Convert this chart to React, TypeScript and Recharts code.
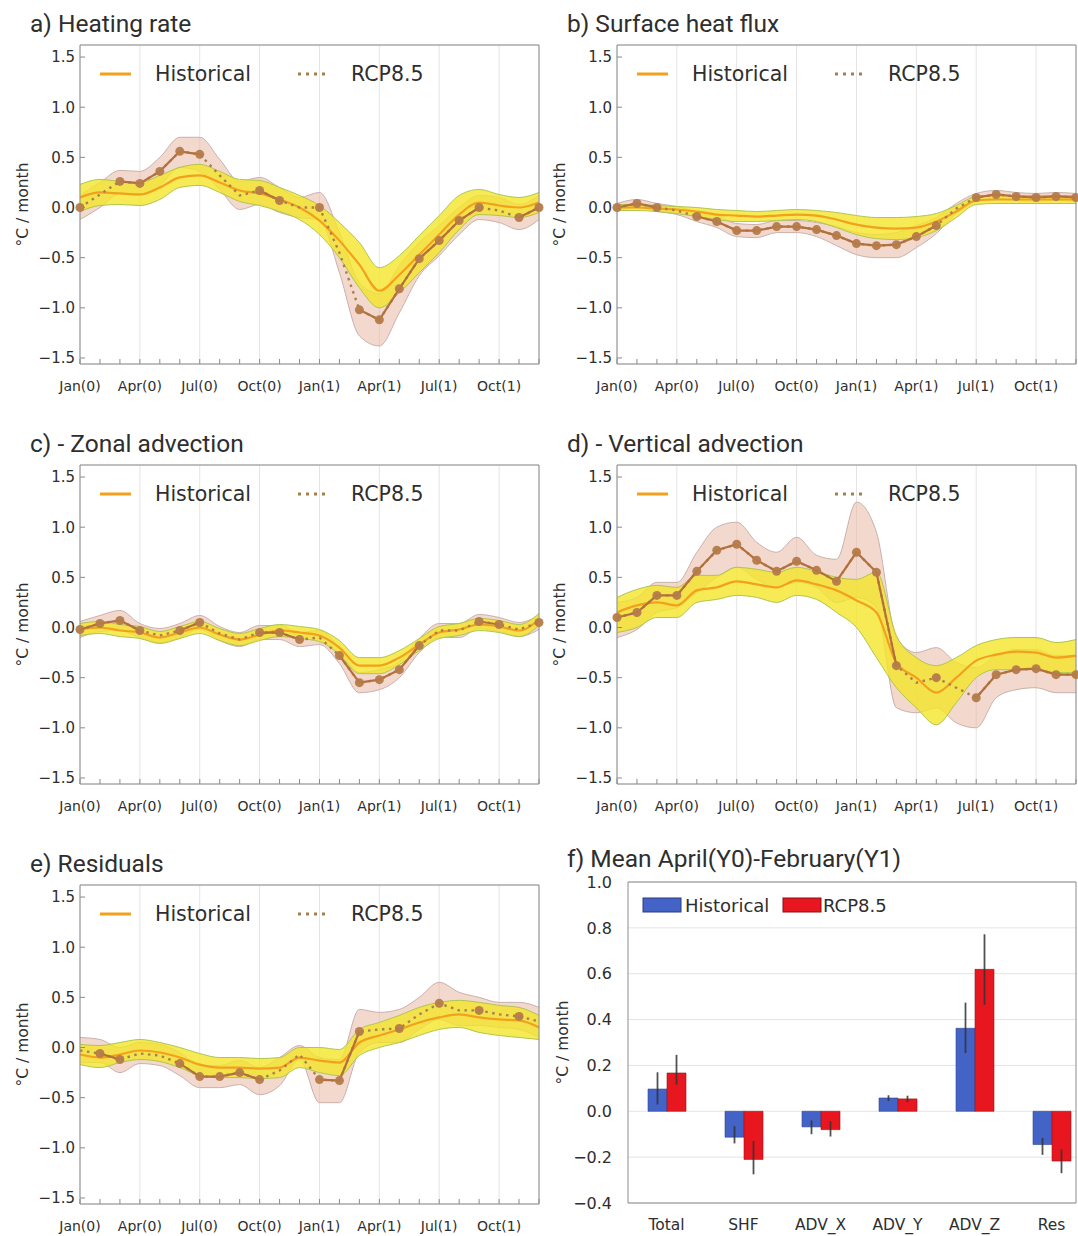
import React from 'react';
import {
  ComposedChart,
  BarChart,
  Bar,
  Line,
  Area,
  XAxis,
  YAxis,
  CartesianGrid,
  ErrorBar,
  Legend,
} from 'recharts';

// ---------------- data ----------------
const MONTHS = [0, 1, 2, 3, 4, 5, 6, 7, 8, 9, 10, 11, 12, 13, 14, 15, 16, 17, 18, 19, 20, 21, 22, 23];
const MAJOR_TICKS = [0, 3, 6, 9, 12, 15, 18, 21];
const MAJOR_LABELS = ['Jan(0)', 'Apr(0)', 'Jul(0)', 'Oct(0)', 'Jan(1)', 'Apr(1)', 'Jul(1)', 'Oct(1)'];
const GRID_MONTHS = [3, 6, 9, 12, 15, 18, 21];
const Y_TICKS = [-1.5, -1.0, -0.5, 0, 0.5, 1.0, 1.5];
const Y_DOMAIN = [-1.56, 1.62];
const SERIES_NAMES = ['Historical', 'RCP8.5'];
const Y_LABEL = '°C / month';

// a) Heating rate
const HR_HIST = [0.1, 0.15, 0.14, 0.13, 0.2, 0.3, 0.32, 0.25, 0.17, 0.14, 0.08, 0.0, -0.13, -0.33, -0.57, -0.83, -0.67, -0.47, -0.27, -0.07, 0.05, 0.02, 0.0, 0.05];
const HR_HIST_LO = [-0.04, 0.02, 0.03, 0.02, 0.08, 0.2, 0.22, 0.15, 0.06, 0.02, -0.04, -0.12, -0.27, -0.5, -0.8, -1.0, -0.85, -0.65, -0.45, -0.22, -0.07, -0.08, -0.1, -0.05];
const HR_HIST_HI = [0.23, 0.28, 0.26, 0.25, 0.32, 0.4, 0.43, 0.36, 0.28, 0.27, 0.2, 0.12, 0.02, -0.15, -0.35, -0.6, -0.48, -0.28, -0.08, 0.12, 0.18, 0.13, 0.1, 0.15];
const HR_RCP = [0.0, 0.13, 0.26, 0.24, 0.36, 0.56, 0.53, 0.32, 0.12, 0.17, 0.07, 0.0, 0.0, -0.45, -1.02, -1.12, -0.81, -0.51, -0.33, -0.13, 0.0, -0.03, -0.1, 0.0];
const HR_RCP_LO = [-0.12, 0.0, 0.14, 0.12, 0.22, 0.4, 0.36, 0.18, -0.02, 0.03, -0.05, -0.1, -0.12, -0.65, -1.28, -1.38, -1.05, -0.68, -0.48, -0.27, -0.12, -0.15, -0.22, -0.12];
const HR_RCP_HI = [0.12, 0.25, 0.37, 0.36, 0.5, 0.7, 0.7, 0.48, 0.26, 0.3, 0.2, 0.1, 0.15, -0.25, -0.75, -0.86, -0.58, -0.35, -0.18, 0.0, 0.12, 0.1, 0.03, 0.12];
const HR_SIG = [0, 2, 3, 4, 5, 6, 9, 10, 12, 14, 15, 16, 17, 18, 19, 20, 22, 23];

// b) Surface heat flux
const SHF_HIST = [0.0, 0.0, -0.01, -0.02, -0.04, -0.07, -0.08, -0.09, -0.08, -0.07, -0.08, -0.12, -0.17, -0.2, -0.21, -0.2, -0.14, -0.04, 0.07, 0.08, 0.08, 0.08, 0.08, 0.08];
const SHF_HIST_LO = [-0.03, -0.03, -0.04, -0.06, -0.09, -0.12, -0.14, -0.14, -0.13, -0.12, -0.14, -0.2, -0.27, -0.31, -0.32, -0.3, -0.23, -0.1, 0.03, 0.04, 0.04, 0.04, 0.04, 0.04];
const SHF_HIST_HI = [0.03, 0.03, 0.02, 0.01, 0.0, -0.02, -0.03, -0.04, -0.03, -0.02, -0.03, -0.05, -0.08, -0.1, -0.1, -0.09, -0.06, 0.02, 0.11, 0.12, 0.12, 0.12, 0.12, 0.12];
const SHF_RCP = [0.0, 0.04, 0.0, -0.03, -0.09, -0.14, -0.23, -0.23, -0.19, -0.19, -0.22, -0.28, -0.36, -0.38, -0.37, -0.29, -0.18, -0.01, 0.1, 0.13, 0.11, 0.1, 0.11, 0.1];
const SHF_RCP_LO = [-0.04, 0.0, -0.04, -0.07, -0.14, -0.2, -0.29, -0.3, -0.25, -0.25, -0.29, -0.38, -0.47, -0.5, -0.5, -0.4, -0.26, -0.06, 0.06, 0.09, 0.07, 0.06, 0.07, 0.06];
const SHF_RCP_HI = [0.04, 0.08, 0.04, 0.01, -0.04, -0.08, -0.16, -0.17, -0.13, -0.13, -0.15, -0.19, -0.25, -0.27, -0.25, -0.18, -0.1, 0.04, 0.14, 0.17, 0.15, 0.14, 0.15, 0.14];
const SHF_SIG = [0, 1, 2, 4, 5, 6, 7, 8, 9, 10, 11, 12, 13, 14, 15, 16, 18, 19, 20, 21, 22, 23];

// c) - Zonal advection
const ZA_HIST = [-0.02, 0.0, -0.03, -0.05, -0.1, -0.05, 0.0, -0.07, -0.12, -0.07, -0.03, -0.05, -0.08, -0.2, -0.38, -0.38, -0.3, -0.17, -0.05, -0.02, 0.03, 0.01, -0.03, 0.08];
const ZA_HIST_LO = [-0.08, -0.06, -0.09, -0.11, -0.16, -0.11, -0.06, -0.13, -0.18, -0.13, -0.09, -0.11, -0.14, -0.27, -0.46, -0.46, -0.37, -0.23, -0.11, -0.08, -0.03, -0.05, -0.09, 0.02];
const ZA_HIST_HI = [0.04, 0.06, 0.03, 0.01, -0.04, 0.01, 0.06, -0.01, -0.06, -0.01, 0.03, 0.01, -0.02, -0.13, -0.3, -0.3, -0.23, -0.11, 0.01, 0.04, 0.09, 0.07, 0.03, 0.14];
const ZA_RCP = [-0.02, 0.04, 0.07, -0.03, -0.08, -0.03, 0.05, -0.06, -0.12, -0.05, -0.05, -0.12, -0.1, -0.28, -0.55, -0.52, -0.42, -0.18, -0.03, -0.03, 0.06, 0.03, -0.02, 0.05];
const ZA_RCP_LO = [-0.1, -0.04, -0.03, -0.1, -0.15, -0.1, -0.02, -0.13, -0.19, -0.12, -0.12, -0.19, -0.17, -0.36, -0.65, -0.62, -0.5, -0.25, -0.1, -0.1, -0.01, -0.04, -0.09, -0.02];
const ZA_RCP_HI = [0.06, 0.12, 0.17, 0.04, -0.01, 0.04, 0.12, 0.01, -0.05, 0.02, 0.02, -0.05, -0.03, -0.2, -0.45, -0.42, -0.34, -0.11, 0.04, 0.04, 0.13, 0.1, 0.05, 0.12];
const ZA_SIG = [0, 1, 2, 3, 5, 6, 9, 10, 11, 13, 14, 15, 16, 17, 20, 21, 23];

// d) - Vertical advection
const VA_HIST = [0.15, 0.22, 0.25, 0.22, 0.37, 0.4, 0.46, 0.43, 0.4, 0.47, 0.43, 0.37, 0.27, 0.15, -0.35, -0.5, -0.65, -0.5, -0.33, -0.27, -0.24, -0.25, -0.3, -0.28];
const VA_HIST_LO = [-0.05, 0.0, 0.1, 0.1, 0.25, 0.28, 0.32, 0.3, 0.25, 0.32, 0.28, 0.15, 0.0, -0.3, -0.6, -0.8, -0.97, -0.75, -0.5, -0.42, -0.42, -0.42, -0.45, -0.45];
const VA_HIST_HI = [0.3, 0.38, 0.42, 0.4, 0.52, 0.52, 0.6, 0.58, 0.55, 0.6, 0.56, 0.5, 0.48, 0.55, -0.08, -0.3, -0.38, -0.3, -0.18, -0.12, -0.1, -0.1, -0.15, -0.12];
const VA_RCP = [0.1, 0.15, 0.32, 0.32, 0.56, 0.77, 0.83, 0.67, 0.56, 0.66, 0.57, 0.46, 0.75, 0.55, -0.38, -0.55, -0.5, -0.6, -0.7, -0.47, -0.42, -0.41, -0.47, -0.47];
const VA_RCP_LO = [-0.1, -0.02, 0.15, 0.2, 0.35, 0.5, 0.6, 0.48, 0.4, 0.45, 0.4, 0.25, 0.3, 0.2, -0.8, -0.85, -0.8, -0.95, -1.0, -0.7, -0.62, -0.6, -0.65, -0.65];
const VA_RCP_HI = [0.25, 0.3, 0.45, 0.45, 0.75, 1.0, 1.05, 0.85, 0.75, 0.9, 0.72, 0.68, 1.25, 0.95, -0.1, -0.25, -0.2, -0.35, -0.4, -0.28, -0.22, -0.22, -0.28, -0.28];
const VA_SIG = [0, 1, 2, 3, 4, 5, 6, 7, 8, 9, 10, 11, 12, 13, 14, 16, 18, 19, 20, 21, 22, 23];

// e) Residuals
const RES_HIST = [-0.07, -0.1, -0.07, -0.03, -0.05, -0.1, -0.17, -0.2, -0.2, -0.21, -0.2, -0.1, -0.13, -0.15, 0.05, 0.12, 0.18, 0.25, 0.3, 0.33, 0.3, 0.28, 0.27, 0.2];
const RES_HIST_LO = [-0.17, -0.2, -0.15, -0.12, -0.14, -0.2, -0.28, -0.3, -0.3, -0.31, -0.3, -0.2, -0.25, -0.28, -0.08, 0.0, 0.05, 0.12, 0.18, 0.2, 0.15, 0.12, 0.1, 0.08];
const RES_HIST_HI = [0.03, 0.02, 0.05, 0.08, 0.05, 0.0, -0.06, -0.1, -0.1, -0.11, -0.1, 0.0, 0.0, -0.02, 0.18, 0.25, 0.32, 0.4, 0.45, 0.47, 0.45, 0.42, 0.4, 0.32];
const RES_RCP = [-0.03, -0.06, -0.12, -0.06, -0.08, -0.16, -0.29, -0.29, -0.25, -0.32, -0.23, -0.07, -0.32, -0.33, 0.16, 0.18, 0.19, 0.33, 0.44, 0.37, 0.37, 0.33, 0.31, 0.26];
const RES_RCP_LO = [-0.15, -0.15, -0.25, -0.16, -0.18, -0.28, -0.4, -0.4, -0.37, -0.47, -0.38, -0.12, -0.55, -0.55, -0.05, 0.05, 0.05, 0.18, 0.28, 0.22, 0.22, 0.2, 0.18, 0.1];
const RES_RCP_HI = [0.1, 0.08, 0.0, 0.05, 0.03, -0.05, -0.18, -0.18, -0.13, -0.2, -0.1, 0.02, -0.1, -0.12, 0.38, 0.35, 0.38, 0.5, 0.65, 0.55, 0.5, 0.45, 0.45, 0.4];
const RES_SIG = [1, 2, 5, 6, 7, 8, 9, 12, 13, 14, 16, 18, 20, 22];

// f) Mean April(Y0)-February(Y1)
const BAR_CATS = ['Total', 'SHF', 'ADV_X', 'ADV_Y', 'ADV_Z', 'Res'];
const BAR_HIST = [0.097, -0.113, -0.068, 0.058, 0.362, -0.145];
const BAR_HIST_LO = [0.03, -0.14, -0.1, 0.045, 0.254, -0.19];
const BAR_HIST_HI = [0.17, -0.065, -0.04, 0.07, 0.474, -0.116];
const BAR_RCP = [0.167, -0.21, -0.08, 0.054, 0.619, -0.217];
const BAR_RCP_LO = [0.116, -0.275, -0.11, 0.04, 0.464, -0.27];
const BAR_RCP_HI = [0.246, -0.13, -0.043, 0.068, 0.772, -0.167];
const BAR_Y_TICKS = [-0.4, -0.2, 0, 0.2, 0.4, 0.6, 0.8, 1.0];
const BAR_Y_DOMAIN = [-0.4, 1.0];

// ---------------- styles ----------------
const FONT = '"DejaVu Sans", Verdana, sans-serif';
const TITLE_FONT = 'Roboto, "Open Sans", sans-serif';
const TXT = '#2e2e2e';
const FRAME = '#8c8c8c';
const GRID = '#e4e4e4';
const HIST_COLOR = '#F3A01C';
const HIST_BAND = '#F4E52A';
const HIST_BAND_EDGE = '#AFC64E';
const RCP_BAND = '#E9B8A6';
const RCP_BAND_EDGE = '#C9B1AC';
const RCP_COLOR = '#B4703C';
const RCP_DOT = '#A88050';
const MARKER = '#B47B4A';
const BAR_BLUE = '#4363C6';
const BAR_RED = '#E8171F';

const fmt = (v: number) => v.toFixed(1).replace('-', '\u2212');

const MonthTick = (props: any) => {
  const { x, y, payload } = props;
  const idx = MAJOR_TICKS.indexOf(payload.value);
  return (
    <g>
      <line x1={x} x2={x} y1={y} y2={y - 5} stroke={FRAME} strokeWidth={1} />
      {idx >= 0 && (
        <text x={x} y={y + 27} textAnchor="middle" fontSize={14} fontFamily={FONT} fill={TXT}>
          {MAJOR_LABELS[idx]}
        </text>
      )}
    </g>
  );
};

const LeftTick = (props: any) => {
  const { x, y, payload } = props;
  return (
    <g>
      <line x1={x} x2={x + 5} y1={y} y2={y} stroke={FRAME} strokeWidth={1} />
      <text x={x - 5} y={y} dy="0.36em" textAnchor="end" fontSize={15} fontFamily={FONT} fill={TXT}>
        {fmt(payload.value)}
      </text>
    </g>
  );
};

const RightTick = (props: any) => {
  const { x, y } = props;
  return <line x1={x} x2={x - 5} y1={y} y2={y} stroke={FRAME} strokeWidth={1} />;
};

const BarYTick = (props: any) => {
  const { x, y, payload } = props;
  return (
    <text x={x - 16} y={y} dy="0.36em" textAnchor="end" fontSize={16} fontFamily={FONT} fill={TXT}>
      {fmt(payload.value)}
    </text>
  );
};

const CatTick = (props: any) => {
  const { x, y, payload } = props;
  return (
    <text x={x} y={y + 27} textAnchor="middle" fontSize={15.5} fontFamily={FONT} fill={TXT}>
      {payload.value}
    </text>
  );
};

const LineLegend = ({ width }: { width: number }) => (
  <svg width={width} height={95} style={{ display: 'block' }}>
    <line x1={100} x2={131} y1={74} y2={74} stroke={HIST_COLOR} strokeWidth={3} />
    <text x={155} y={81} fontSize={20.5} fontFamily={FONT} fill={TXT}>
      {SERIES_NAMES[0]}
    </text>
    <line x1={298} x2={327} y1={74} y2={74} stroke={RCP_DOT} strokeWidth={3} strokeDasharray="3 5" />
    <text x={351} y={81} fontSize={20.5} fontFamily={FONT} fill={TXT}>
      {SERIES_NAMES[1]}
    </text>
  </svg>
);

const BarLegend = ({ width }: { width: number }) => (
  <svg width={width} height={90} style={{ display: 'block' }}>
    <rect x={103} y={58} width={38} height={14} fill={BAR_BLUE} stroke="#2a3d80" strokeWidth={1} />
    <text x={145} y={72} fontSize={18} fontFamily={FONT} fill={TXT}>
      {SERIES_NAMES[0]}
    </text>
    <rect x={243} y={58} width={38} height={14} fill={BAR_RED} stroke="#8a1015" strokeWidth={1} />
    <text x={283} y={72} fontSize={18} fontFamily={FONT} fill={TXT}>
      {SERIES_NAMES[1]}
    </text>
  </svg>
);

const Title = ({ text, x, y }: { text: string; x: number; y: number }) => (
  <svg
    width={420}
    height={40}
    style={{ position: 'absolute', left: 0, top: 0, overflow: 'visible', pointerEvents: 'none' }}
  >
    <text x={x} y={y} fontSize={24.5} fontFamily={TITLE_FONT} fill={TXT}>
      {text}
    </text>
  </svg>
);

const PANELS = [
  { title: 'a) Heating rate', left: 0, top: 0, width: 545, hist: HR_HIST, histLo: HR_HIST_LO, histHi: HR_HIST_HI, rcp: HR_RCP, rcpLo: HR_RCP_LO, rcpHi: HR_RCP_HI, sig: HR_SIG },
  { title: 'b) Surface heat flux', left: 537, top: 0, width: 541, hist: SHF_HIST, histLo: SHF_HIST_LO, histHi: SHF_HIST_HI, rcp: SHF_RCP, rcpLo: SHF_RCP_LO, rcpHi: SHF_RCP_HI, sig: SHF_SIG },
  { title: 'c) - Zonal advection', left: 0, top: 420, width: 545, hist: ZA_HIST, histLo: ZA_HIST_LO, histHi: ZA_HIST_HI, rcp: ZA_RCP, rcpLo: ZA_RCP_LO, rcpHi: ZA_RCP_HI, sig: ZA_SIG },
  { title: 'd) - Vertical advection', left: 537, top: 420, width: 541, hist: VA_HIST, histLo: VA_HIST_LO, histHi: VA_HIST_HI, rcp: VA_RCP, rcpLo: VA_RCP_LO, rcpHi: VA_RCP_HI, sig: VA_SIG },
  { title: 'e) Residuals', left: 0, top: 840, width: 545, hist: RES_HIST, histLo: RES_HIST_LO, histHi: RES_HIST_HI, rcp: RES_RCP, rcpLo: RES_RCP_LO, rcpHi: RES_RCP_HI, sig: RES_SIG },
];

function LinePanel(p: any) {
  const { title, left, top, width, hist, histLo, histHi, rcp, rcpLo, rcpHi, sig } = p;
  const sigSet = new Set(sig);
  const data = MONTHS.map((m, i) => ({
    m,
    hist: hist[i],
    histBand: [histLo[i], histHi[i]],
    rcp: rcp[i],
    rcpBand: [rcpLo[i], rcpHi[i]],
    rcpSig: sigSet.has(i) ? rcp[i] : null,
  }));
  const height = 396;
  return (
    <div style={{ position: 'absolute', left, top, width, height }}>
      <ComposedChart
        width={width}
        height={height}
        data={data}
        margin={{ top: 44, right: width - 540, bottom: 2, left: 22 }}
      >
        <CartesianGrid xAxisId="grid" yAxisId="zero" stroke={GRID} strokeWidth={1} />
        <XAxis
          dataKey="m"
          type="number"
          domain={[0, 23]}
          ticks={MONTHS}
          interval={0}
          height={30}
          tickSize={0}
          tickMargin={0}
          tickLine={false}
          axisLine={{ stroke: FRAME }}
          tick={<MonthTick />}
        />
        <XAxis
          xAxisId="top"
          orientation="top"
          dataKey="m"
          type="number"
          domain={[0, 23]}
          height={1}
          tick={false}
          tickLine={false}
          axisLine={{ stroke: FRAME }}
        />
        <XAxis xAxisId="grid" dataKey="m" type="number" domain={[0, 23]} ticks={GRID_MONTHS} interval={0} hide />
        <YAxis
          type="number"
          domain={Y_DOMAIN}
          ticks={Y_TICKS}
          interval={0}
          width={58}
          tickSize={0}
          tickMargin={0}
          tickLine={false}
          axisLine={{ stroke: FRAME }}
          tick={<LeftTick />}
          label={{
            value: Y_LABEL,
            angle: -90,
            position: 'insideLeft',
            offset: 0,
            style: { textAnchor: 'middle', fontSize: 15.5, fontFamily: FONT, fill: TXT },
          }}
        />
        <YAxis
          yAxisId="r"
          orientation="right"
          type="number"
          domain={Y_DOMAIN}
          ticks={Y_TICKS}
          interval={0}
          width={1}
          tickSize={0}
          tickMargin={0}
          tickLine={false}
          axisLine={{ stroke: FRAME }}
          tick={<RightTick />}
        />
        <YAxis yAxisId="zero" type="number" domain={Y_DOMAIN} ticks={[0]} interval={0} hide />
        <Area
          dataKey="rcpBand"
          type="monotone"
          fill={RCP_BAND}
          fillOpacity={0.55}
          stroke={RCP_BAND_EDGE}
          strokeWidth={1}
          dot={false}
          activeDot={false}
          isAnimationActive={false}
        />
        <Area
          dataKey="histBand"
          type="monotone"
          fill={HIST_BAND}
          fillOpacity={0.8}
          stroke={HIST_BAND_EDGE}
          strokeWidth={1}
          dot={false}
          activeDot={false}
          isAnimationActive={false}
        />
        <Line
          dataKey="hist"
          type="monotone"
          stroke={HIST_COLOR}
          strokeWidth={2.2}
          dot={false}
          activeDot={false}
          isAnimationActive={false}
        />
        <Line
          dataKey="rcp"
          type="linear"
          stroke={RCP_DOT}
          strokeWidth={2.4}
          strokeDasharray="2.5 4.5"
          dot={false}
          activeDot={false}
          isAnimationActive={false}
        />
        <Line
          dataKey="rcpSig"
          type="linear"
          stroke={RCP_COLOR}
          strokeWidth={2.2}
          connectNulls={false}
          dot={{ r: 4.5, fill: MARKER, stroke: MARKER, strokeWidth: 0, fillOpacity: 0.95 }}
          activeDot={false}
          isAnimationActive={false}
        />
        <Legend
          layout="horizontal"
          verticalAlign="middle"
          align="center"
          wrapperStyle={{ left: 0, top: 0, width, height: 95 }}
          content={() => <LineLegend width={width} />}
        />
      </ComposedChart>
      <Title text={title} x={30} y={32} />
    </div>
  );
}

function BarPanel() {
  const data = BAR_CATS.map((cat, i) => ({
    cat,
    hist: BAR_HIST[i],
    histErr: [BAR_HIST[i] - BAR_HIST_LO[i], BAR_HIST_HI[i] - BAR_HIST[i]],
    rcp: BAR_RCP[i],
    rcpErr: [BAR_RCP[i] - BAR_RCP_LO[i], BAR_RCP_HI[i] - BAR_RCP[i]],
  }));
  const width = 538;
  const height = 396;
  return (
    <div style={{ position: 'absolute', left: 540, top: 840, width, height }}>
      <BarChart
        width={width}
        height={height}
        data={data}
        barGap={0}
        margin={{ top: 41, right: 1, bottom: 3, left: 22 }}
      >
        <CartesianGrid vertical={false} stroke={GRID} strokeWidth={1} />
        <XAxis
          dataKey="cat"
          padding={{ left: 0, right: -14 }}
          height={30}
          interval={0}
          tickSize={0}
          tickMargin={0}
          tickLine={false}
          axisLine={{ stroke: FRAME }}
          tick={<CatTick />}
        />
        <XAxis
          xAxisId="top"
          orientation="top"
          dataKey="cat"
          height={1}
          tick={false}
          tickLine={false}
          axisLine={{ stroke: FRAME }}
        />
        <YAxis
          type="number"
          domain={BAR_Y_DOMAIN}
          ticks={BAR_Y_TICKS}
          interval={0}
          width={66}
          tickSize={0}
          tickMargin={0}
          tickLine={false}
          axisLine={{ stroke: FRAME }}
          tick={<BarYTick />}
          label={{
            value: Y_LABEL,
            angle: -90,
            position: 'insideLeft',
            offset: 0,
            style: { textAnchor: 'middle', fontSize: 15.5, fontFamily: FONT, fill: TXT },
          }}
        />
        <YAxis
          yAxisId="r"
          orientation="right"
          type="number"
          domain={BAR_Y_DOMAIN}
          width={1}
          tick={false}
          tickLine={false}
          axisLine={{ stroke: FRAME }}
        />
        <Bar dataKey="hist" fill={BAR_BLUE} stroke="#2f4690" strokeWidth={0.6} barSize={19} isAnimationActive={false}>
          <ErrorBar dataKey="histErr" width={0} stroke="#333" strokeWidth={1.8} strokeOpacity={0.85} />
        </Bar>
        <Bar dataKey="rcp" fill={BAR_RED} stroke="#9a1218" strokeWidth={0.6} barSize={19} isAnimationActive={false}>
          <ErrorBar dataKey="rcpErr" width={0} stroke="#333" strokeWidth={1.8} strokeOpacity={0.85} />
        </Bar>
        <Legend
          layout="horizontal"
          verticalAlign="middle"
          align="center"
          wrapperStyle={{ left: 0, top: 0, width, height: 90 }}
          content={() => <BarLegend width={width} />}
        />
      </BarChart>
      <Title text="f) Mean April(Y0)-February(Y1)" x={27} y={27} />
    </div>
  );
}

export default function App() {
  return (
    <div
      style={{
        position: 'absolute',
        left: 0,
        top: 0,
        width: 1078,
        height: 1236,
        overflow: 'hidden',
        background: '#ffffff',
      }}
    >
      {PANELS.map((p) => (
        <LinePanel key={p.title} {...p} />
      ))}
      <BarPanel />
    </div>
  );
}
